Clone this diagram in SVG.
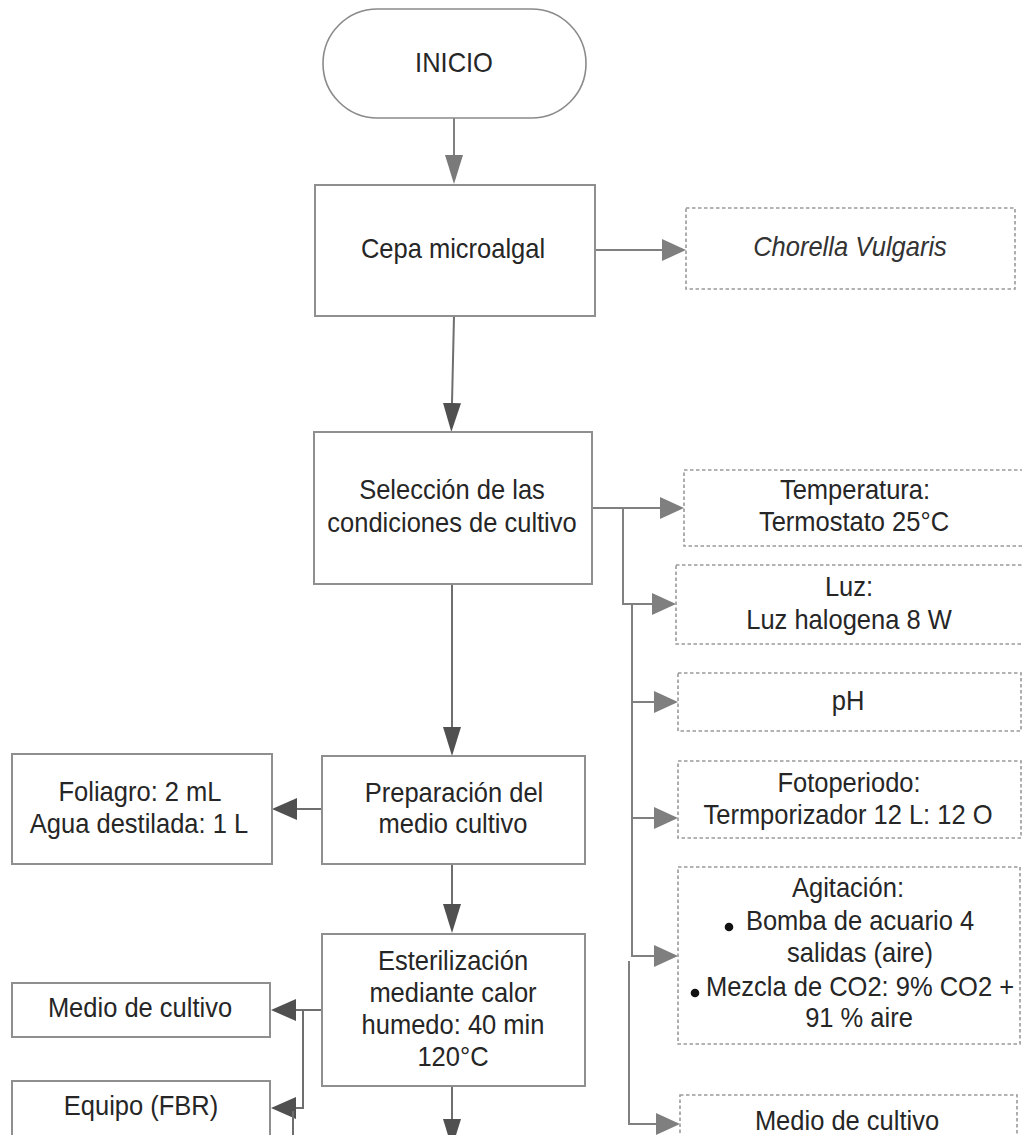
<svg xmlns="http://www.w3.org/2000/svg" width="1022" height="1135" viewBox="0 0 1022 1135">
<style>
.box{fill:#ffffff;stroke:#8f8f8f;stroke-width:2}
.term{fill:#ffffff;stroke:#8a8a8a;stroke-width:1.6}
.dash{fill:#ffffff;stroke:#9a9a9a;stroke-width:1.6;stroke-dasharray:3.5 2.5}
.ln{fill:none;stroke:#808080;stroke-width:2}
.lnd{fill:none;stroke:#6e6e6e;stroke-width:2}
text{font-family:"Liberation Sans",Arial,sans-serif;font-size:28.5px;fill:#262626;text-anchor:middle}
.it{font-style:italic;fill:#333333}
.bul{fill:#111111}
</style>
<defs>
<marker id="vl" markerUnits="userSpaceOnUse" markerWidth="29" markerHeight="18" viewBox="0 0 29 18" refX="0" refY="9" orient="auto"><path d="M0,0 L29,9 L0,18 z" fill="#7a7a7a"/></marker>
<marker id="vd" markerUnits="userSpaceOnUse" markerWidth="29" markerHeight="18" viewBox="0 0 29 18" refX="0" refY="9" orient="auto"><path d="M0,0 L29,9 L0,18 z" fill="#505050"/></marker>
<marker id="hl" markerUnits="userSpaceOnUse" markerWidth="24" markerHeight="22" viewBox="0 0 24 22" refX="0" refY="11" orient="auto"><path d="M0,0 L24,11 L0,22 z" fill="#7f7f7f"/></marker>
<marker id="hd" markerUnits="userSpaceOnUse" markerWidth="25" markerHeight="22" viewBox="0 0 25 22" refX="0" refY="11" orient="auto"><path d="M0,0 L25,11 L0,22 z" fill="#505050"/></marker>
</defs>
<rect x="0" y="0" width="1022" height="1135" fill="#ffffff"/>

<g id="connectors">
<path class="ln" d="M454,118 V155" marker-end="url(#vl)"/>
<path class="ln" d="M595,250 H662" marker-end="url(#hl)"/>
<path class="lnd" d="M454,316 L452,403" marker-end="url(#vd)"/>
<path class="ln" d="M592,508 H660" marker-end="url(#hl)"/>
<path class="ln" d="M623,508 V604 H652" marker-end="url(#hl)"/>
<path class="ln" d="M632,604 V956 H654" marker-end="url(#hl)"/>
<path class="ln" d="M632,702 H654" marker-end="url(#hl)"/>
<path class="ln" d="M632,818 H654" marker-end="url(#hl)"/>
<path class="ln" d="M629,961 V1124 H656" marker-end="url(#hl)"/>
<path class="lnd" d="M452,584 V727" marker-end="url(#vd)"/>
<path class="lnd" d="M322,809 H297" marker-end="url(#hd)"/>
<path class="lnd" d="M452,864 V904" marker-end="url(#vd)"/>
<path class="lnd" d="M322,1010 H296" marker-end="url(#hd)"/>
<path class="lnd" d="M303,1010 V1108 H296" marker-end="url(#hd)"/>
<path class="lnd" d="M293,1111 V1140"/>
<path class="lnd" d="M452,1086 V1119" marker-end="url(#vd)"/>
</g>

<g id="inicio">
<rect class="term" x="323" y="9" width="263" height="109" rx="54.5" ry="54.5"/>
<text transform="matrix(0.895 0 0 1 454 0)" y="72">INICIO</text>
</g>

<g id="cepa">
<rect class="box" x="315" y="185" width="280" height="131"/>
<text transform="matrix(0.895 0 0 1 453 0)" y="258">Cepa microalgal</text>
</g>

<g id="chorella">
<rect class="dash" x="686" y="208" width="329" height="81"/>
<text class="it" transform="matrix(0.895 0 0 1 850 0)" y="256">Chorella Vulgaris</text>
</g>

<g id="seleccion">
<rect class="box" x="314" y="432" width="278" height="152"/>
<text transform="matrix(0.895 0 0 1 452 0)" y="499">Selección de las</text>
<text transform="matrix(0.895 0 0 1 452 0)" y="532">condiciones de cultivo</text>
</g>

<g id="temperatura">
<rect class="dash" x="684" y="470" width="350" height="76"/>
<text transform="matrix(0.895 0 0 1 855 0)" y="499">Temperatura:</text>
<text transform="matrix(0.895 0 0 1 854 0)" y="531">Termostato 25°C</text>
</g>

<g id="luz">
<rect class="dash" x="676" y="565" width="358" height="79"/>
<text transform="matrix(0.895 0 0 1 849 0)" y="596">Luz:</text>
<text transform="matrix(0.895 0 0 1 849 0)" y="629">Luz halogena 8 W</text>
</g>

<g id="ph">
<rect class="dash" x="678" y="673" width="343" height="58"/>
<text transform="matrix(0.895 0 0 1 848 0)" y="710">pH</text>
</g>

<g id="fotoperiodo">
<rect class="dash" x="678" y="761" width="343" height="77"/>
<text transform="matrix(0.895 0 0 1 849 0)" y="792">Fotoperiodo:</text>
<text transform="matrix(0.895 0 0 1 848 0)" y="824">Termporizador 12 L: 12 O</text>
</g>

<g id="agitacion">
<rect class="dash" x="678" y="867" width="342" height="177"/>
<text transform="matrix(0.895 0 0 1 848 0)" y="897">Agitación:</text>
<circle class="bul" cx="729" cy="927" r="4.3"/>
<text transform="matrix(0.895 0 0 1 860 0)" y="930">Bomba de acuario 4</text>
<text transform="matrix(0.895 0 0 1 860 0)" y="962">salidas (aire)</text>
<circle class="bul" cx="695" cy="993" r="4.3"/>
<text transform="matrix(0.895 0 0 1 860 0)" y="996">Mezcla de CO2: 9% CO2 +</text>
<text transform="matrix(0.895 0 0 1 859 0)" y="1027">91 % aire</text>
</g>

<g id="medio-cultivo-der">
<rect class="dash" x="680" y="1095" width="337" height="60"/>
<text transform="matrix(0.895 0 0 1 847 0)" y="1130">Medio de cultivo</text>
</g>

<g id="foliagro">
<rect class="box" x="12" y="754" width="260" height="110"/>
<text transform="matrix(0.895 0 0 1 140 0)" y="801">Foliagro: 2 mL</text>
<text transform="matrix(0.895 0 0 1 139 0)" y="833">Agua destilada: 1 L</text>
</g>

<g id="preparacion">
<rect class="box" x="322" y="756" width="263" height="108"/>
<text transform="matrix(0.895 0 0 1 454 0)" y="802">Preparación del</text>
<text transform="matrix(0.895 0 0 1 453 0)" y="833">medio cultivo</text>
</g>

<g id="esterilizacion">
<rect class="box" x="322" y="934" width="263" height="152"/>
<text transform="matrix(0.895 0 0 1 453 0)" y="970">Esterilización</text>
<text transform="matrix(0.895 0 0 1 453 0)" y="1002">mediante calor</text>
<text transform="matrix(0.895 0 0 1 453 0)" y="1034">humedo: 40 min</text>
<text transform="matrix(0.895 0 0 1 453 0)" y="1066">120°C</text>
</g>

<g id="medio-cultivo-izq">
<rect class="box" x="12" y="983" width="258" height="54"/>
<text transform="matrix(0.895 0 0 1 140 0)" y="1017">Medio de cultivo</text>
</g>

<g id="equipo">
<rect class="box" x="12" y="1081" width="258" height="70"/>
<text transform="matrix(0.895 0 0 1 141 0)" y="1115">Equipo (FBR)</text>
</g>
</svg>
